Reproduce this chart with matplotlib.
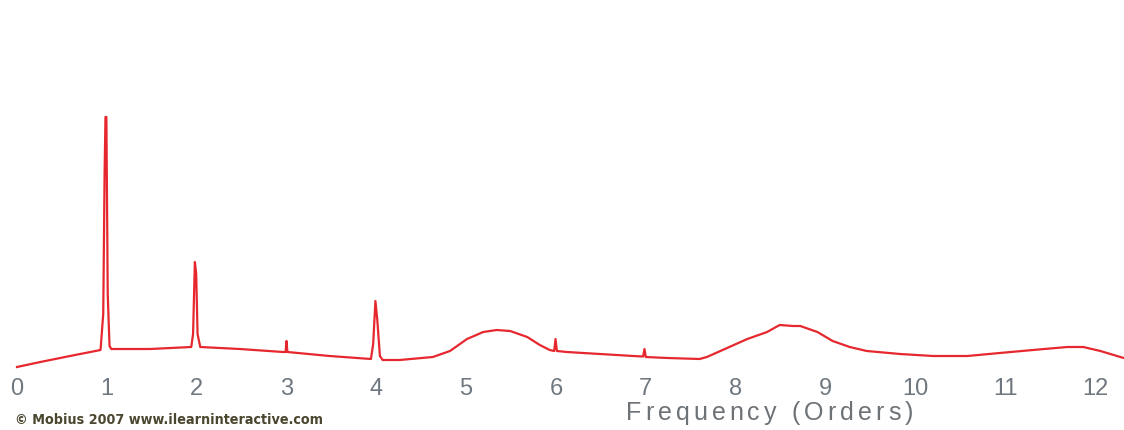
import matplotlib
matplotlib.use("Agg")
import matplotlib.pyplot as plt
from matplotlib import font_manager
from matplotlib.ft2font import FT2Font

# Spectrum trace: frequency in orders, amplitude in arbitrary units
freq = [0.00, 0.26, 0.59, 0.93, 0.96, 0.975, 0.985, 0.995, 1.01, 1.03, 1.05,
        1.48, 1.94, 1.96, 1.98, 1.995, 2.01, 2.04, 2.48, 2.96, 2.99, 3.00, 3.01,
        3.48, 3.94, 3.965, 3.99, 4.01, 4.04, 4.07, 4.26, 4.63, 4.82, 5.01, 5.19,
        5.34, 5.49, 5.68, 5.82, 5.93, 5.98, 5.995, 6.01, 6.12, 6.49, 6.86, 6.97,
        6.985, 7.00, 7.24, 7.60, 7.68, 7.83, 8.13, 8.35, 8.49, 8.64, 8.72, 8.91,
        9.08, 9.27, 9.46, 9.83, 10.20, 10.58, 10.94, 11.31, 11.69, 11.87, 12.06,
        12.32]
amplitude = [7, 12, 18, 24, 60, 200, 257, 257, 80, 28, 25,
             25, 27, 40, 112, 100, 40, 27, 25, 22, 22, 33, 22,
             18, 15, 30, 73, 55, 18, 14, 14, 17, 23, 35, 42,
             44, 43, 37, 29, 24, 23, 35, 23, 22, 20, 18, 17.5,
             25, 17, 16, 15, 17, 23, 35, 42, 49, 48, 48, 42,
             33, 27, 23, 20, 18, 18, 21, 24, 27, 27, 23,
             16]

orders = list(range(13))
order_labels = [str(o) for o in orders]
x_title = "Frequency (Orders)"
credit = "\u00a9 Mobius 2007 www.ilearninteractive.com"

W, H = 1124, 431
DPI = 100
fig = plt.figure(figsize=(W / DPI, H / DPI), dpi=DPI)
fig.patch.set_facecolor("white")

px_per_order = 89.83
x0_px = 17
ax_bottom_px = 375
ax = fig.add_axes([0, (H - ax_bottom_px) / H, 1, ax_bottom_px / H])
ax.set_facecolor("white")

ax.plot(freq, amplitude, color="#e6282e", lw=1.6, solid_joinstyle="round")

ax.set_xlim(-x0_px / px_per_order, (W - x0_px) / px_per_order)
ax.set_ylim(0, ax_bottom_px)

for s in ax.spines.values():
    s.set_visible(False)
ax.set_yticks([])
ax.set_xticks(orders)
ax.set_xticklabels(order_labels, fontsize=17, color="#6f7880",
                   family="Liberation Sans")
ax.tick_params(axis="x", length=0, pad=2)


def tracked_text(s, x_left, x_right, y, size, family, color):
    """Draw a string with extra letter spacing so it spans x_left..x_right (px)."""
    prop = font_manager.FontProperties(family=family, size=size)
    font = FT2Font(font_manager.findfont(prop))
    font.set_size(size, DPI)
    adv = [font.load_char(ord(c)).linearHoriAdvance / 65536.0 for c in s]
    natural = sum(adv)
    track = (x_right - x_left - natural) / (len(s) - 1)
    x = x_left
    for c, a in zip(s, adv):
        if c != " ":
            fig.text(x / W, 1 - y / H, c, ha="left", va="center",
                     fontproperties=prop, color=color)
        x += a + track


tracked_text(x_title, 626, 913, 413, 18, "Liberation Sans", "#6d7277")

fig.text(15 / W, 1 - 420 / H, credit, ha="left", va="center", fontsize=10.3,
         color="#4b4630", family="DejaVu Sans", fontweight="bold",
         fontstretch="condensed")

fig.savefig("out.png", dpi=DPI, facecolor="white")
